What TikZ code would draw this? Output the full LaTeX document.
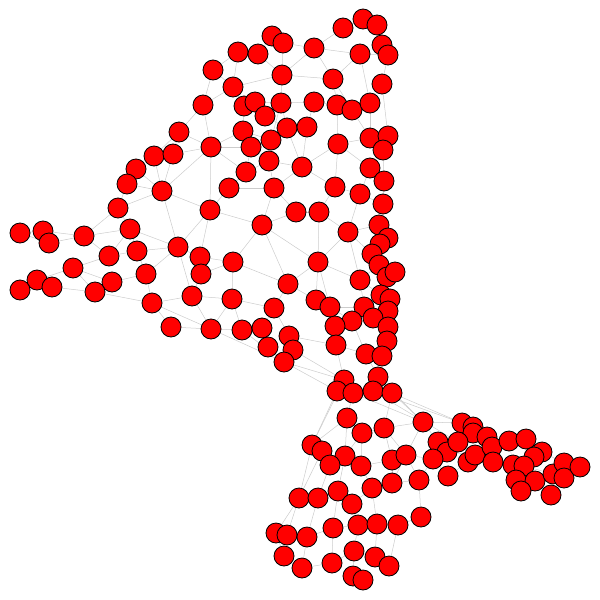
\documentclass[tikz,border=0pt]{standalone}
\usetikzlibrary{backgrounds}
\begin{document}
\begin{tikzpicture}[x=1pt,y=-1pt,
  vtx/.style={circle,draw=black,fill=red,line width=0.8pt,minimum size=20pt,inner sep=0pt},
  edge/.style={draw=black!20,line width=0.5pt}]
\useasboundingbox (0,0) rectangle (600,600);
\foreach \i/\x/\y in {
1/343/28, 2/363/19, 3/377/25, 4/272/36, 5/283/43, 6/238/52, 7/258/54, 8/314/48,
9/360/54, 10/382/45, 11/388/55, 12/213/70, 13/282/75, 14/333/79, 15/382/84,
16/233/87, 17/203/105, 18/244/106, 19/255/102, 20/281/103, 21/314/102, 22/337/105,
23/352/110, 24/370/103, 25/265/116, 26/243/131, 27/287/128, 28/307/127, 29/370/138,
30/388/136, 31/383/150, 32/179/132, 33/271/140, 34/211/147, 35/251/147, 36/338/144,
37/154/156, 38/173/154, 39/269/161, 40/302/167, 41/370/168, 42/136/169, 43/246/172,
44/384/181, 45/127/184, 46/162/191, 47/229/188, 48/274/188, 49/335/187, 50/360/194,
51/118/208, 52/210/210, 53/383/204, 54/296/212, 55/319/212, 56/262/225, 57/348/232,
58/379/225, 59/130/229, 60/20/233, 61/43/231, 62/49/243, 63/84/236, 64/388/238,
65/380/244, 66/178/247, 67/109/256, 68/137/251, 69/372/254, 70/200/257, 71/233/262,
72/318/262, 73/379/265, 74/73/268, 75/201/274, 76/146/274, 77/387/277, 78/395/272,
79/37/280, 80/52/287, 81/20/290, 82/112/282, 83/288/284, 84/360/280, 85/95/292,
86/192/296, 87/232/299, 88/152/303, 89/316/300, 90/330/307, 91/381/295, 92/390/299,
93/274/308, 94/364/307, 95/388/311, 96/373/318, 97/171/327, 98/211/329, 99/242/330,
100/262/328, 101/352/321, 102/335/326, 103/388/327, 104/289/336, 105/268/347,
106/293/350, 107/336/345, 108/387/341, 109/284/362, 110/366/354, 111/382/356,
112/344/380, 113/378/377, 114/337/391, 115/353/393, 116/373/391, 117/392/393,
118/347/418, 119/423/422, 120/362/433, 121/384/428, 122/312/445, 123/322/451,
124/345/456, 125/330/465, 126/361/466, 127/392/460, 128/406/455, 129/438/442,
130/447/452, 131/433/459, 132/462/423, 133/473/427, 134/473/433, 135/487/437,
136/458/442, 137/468/462, 138/475/455, 139/492/447, 140/493/462, 141/509/441,
142/526/439, 143/542/452, 144/534/457, 145/513/465, 146/524/466, 147/516/480,
148/535/481, 149/521/491, 150/551/495, 151/553/474, 152/564/463, 153/564/478,
154/580/467, 155/419/480, 156/448/476, 157/372/488, 158/392/483, 159/299/498,
160/318/498, 161/338/491, 162/352/504, 163/276/533, 164/287/535, 165/307/537,
166/333/528, 167/358/525, 168/377/524, 169/398/525, 170/421/517, 171/284/556,
172/302/568, 173/332/563, 174/354/551, 175/375/557, 176/389/566, 177/353/576,
178/363/580}
  \node[vtx] (n\i) at (\x,\y) {};
\begin{pgfonlayer}{background}
\foreach \a/\b in {
1/2, 2/3, 3/10, 10/11, 1/8, 8/9, 9/11, 9/14, 8/5, 4/5, 4/7, 6/7, 5/13, 8/13, 8/14,
13/14, 7/13, 6/12, 6/16, 12/16, 12/17, 16/17, 16/18, 16/13, 13/20, 14/22, 14/23,
11/15, 9/24, 15/30, 15/24, 18/19, 19/20, 20/21, 21/22, 22/23, 23/24, 24/29, 18/26,
19/25, 20/27, 25/27, 21/28, 27/28, 22/36, 23/29, 29/30, 30/31, 29/36, 26/33, 26/35,
33/35, 20/33, 33/39, 35/39, 35/43, 39/43, 39/48, 39/40, 28/40, 27/40, 40/36, 36/49,
40/49, 48/40, 36/41, 31/41, 41/44, 31/44, 44/53, 49/50, 50/41, 50/53, 43/47, 47/48,
43/34, 34/35, 34/26, 17/34, 17/32, 32/34, 32/38, 32/37, 37/38, 38/34, 37/42, 37/46,
38/46, 42/46, 42/45, 45/46, 45/51, 46/34, 46/52, 34/52, 47/52, 48/56, 48/54, 54/56,
54/55, 49/55, 55/57, 50/57, 53/58, 57/58, 58/64, 64/65, 65/69, 57/69, 69/73, 73/77,
77/78, 73/84, 57/84, 55/72, 57/72, 52/56, 56/71, 56/83, 56/72, 52/70, 70/71, 71/75,
71/83, 71/87, 72/83, 72/89, 72/90, 72/84, 84/94, 84/91, 91/92, 91/77, 92/95, 94/95,
94/96, 95/96, 89/90, 90/94, 83/93, 87/93, 83/89, 87/86, 86/75, 75/70, 87/98, 87/99,
93/100, 93/104, 99/100, 100/105, 104/106, 105/109, 106/109, 98/109, 99/109, 104/107,
89/102, 102/107, 101/102, 101/96, 90/101, 96/103, 103/108, 108/111, 111/110, 110/101,
110/107, 107/112, 109/112, 109/114, 106/112, 112/114, 114/115, 115/116, 116/117,
113/116, 111/113, 110/113, 113/117, 115/118, 117/121, 113/119, 117/119, 117/132,
116/136, 112/122, 114/122, 118/120, 118/122, 118/124, 116/133, 115/119,
51/59, 51/63, 51/46, 61/63, 60/61, 60/62, 61/62, 62/63, 63/59, 63/67, 59/67, 59/68,
59/66, 67/68, 67/74, 74/82, 74/79, 79/80, 79/81, 80/81, 80/85, 85/82, 82/76, 68/76,
66/76, 66/68, 66/70, 66/86, 66/46, 66/52, 76/88, 85/88, 88/86, 88/97, 88/98, 97/98,
98/99, 86/98, 74/85,
122/123, 123/125, 125/124, 124/120, 120/121, 121/127, 127/126, 126/124, 126/157,
157/158, 158/127, 125/160, 160/159, 160/161, 161/124, 161/162, 162/157, 162/167,
159/163, 159/164, 163/164, 164/165, 165/160, 165/166, 166/161, 166/167, 167/168,
168/169, 169/170, 170/155, 155/158, 163/171, 171/172, 172/173, 173/166, 173/174,
174/177, 177/178, 174/175, 175/176, 176/169, 175/168, 167/174, 165/172, 122/159,
123/159, 120/126, 121/128, 158/128, 157/168,
119/121, 119/128, 119/129, 119/132, 128/131, 128/155, 131/130, 130/129, 129/136,
136/132, 132/133, 133/134, 134/135, 135/139, 139/141, 141/142, 142/143, 143/144,
144/146, 146/145, 145/147, 147/149, 149/148, 148/151, 151/153, 153/152, 152/154,
151/150, 139/140, 140/137, 137/138, 138/130, 131/156, 156/137, 155/131, 141/145,
140/145, 142/146, 136/138, 134/136, 148/150, 146/151, 143/152}
  \draw[edge] (n\a) -- (n\b);
\end{pgfonlayer}
\end{tikzpicture}
\end{document}
